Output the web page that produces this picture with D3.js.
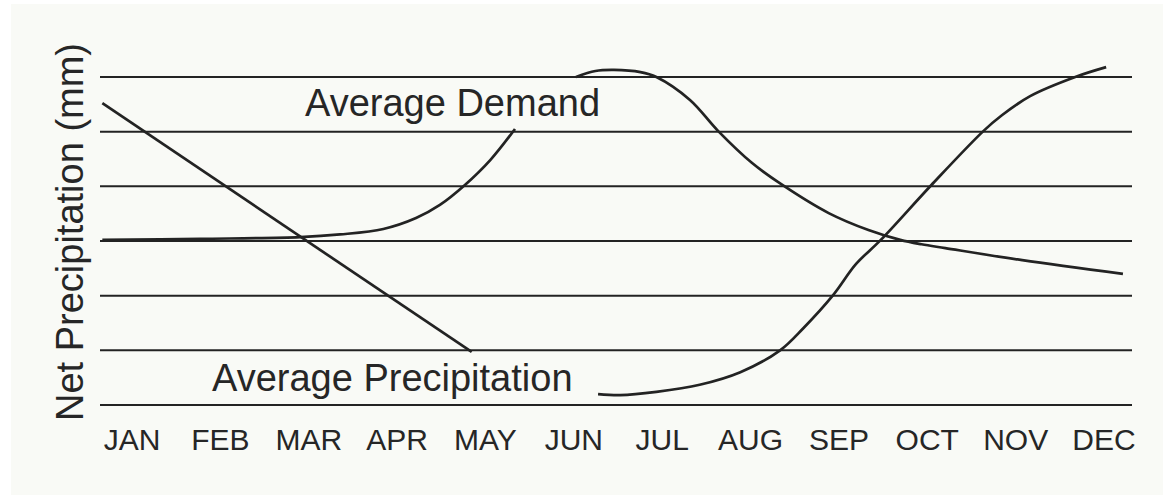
<!DOCTYPE html>
<html>
<head>
<meta charset="utf-8">
<script src="https://cdn.jsdelivr.net/npm/d3@7"></script>
<style>
  body { margin: 0; background: #fff; }
  text { font-family: "Liberation Sans", Arial, sans-serif; fill: #262626; }
</style>
</head>
<body>
<svg id="chart" width="1163" height="495"></svg>
<script>
var months = ["JAN", "FEB", "MAR", "APR", "MAY", "JUN", "JUL", "AUG", "SEP", "OCT", "NOV", "DEC"];

// grid levels (no labels on the y axis in the original)
var levels = [0, 1, 2, 3, 4, 5, 6];

// [month index, value in grid units]
var precipEarly = [[-0.33, 5.52], [3.85, 0.97]];
var precipLate = [
  [5.28, 0.20], [5.53, 0.18], [5.94, 0.24], [6.43, 0.37], [6.89, 0.60],
  [7.34, 1.00], [7.60, 1.40], [7.94, 2.01], [8.20, 2.58], [8.48, 3.02],
  [9.05, 4.02], [9.64, 5.01], [9.85, 5.30], [10.17, 5.65], [10.68, 6.00],
  [11.03, 6.18]
];
var demandEarly = [
  [-0.33, 3.02], [0.78, 3.04], [1.91, 3.07], [2.36, 3.12], [2.85, 3.22],
  [3.22, 3.42], [3.49, 3.66], [3.77, 4.02], [4.06, 4.48], [4.34, 5.05]
];
var demandLate = [
  [5.03, 6.00], [5.25, 6.11], [5.46, 6.13], [5.76, 6.09], [5.94, 6.00],
  [6.32, 5.58], [6.64, 5.01], [7.02, 4.43], [7.37, 4.02], [7.89, 3.51],
  [8.34, 3.20], [8.70, 3.02], [8.94, 2.94], [9.21, 2.87], [10.08, 2.65],
  [11.22, 2.40]
];

var svg = d3.select("#chart"),
  gridLeft = 100,
  gridRight = 1132,
  ink = "#232323";

svg.append("rect")
  .attr("x", 11).attr("y", 4)
  .attr("width", 1152).attr("height", 491)
  .attr("fill", "#f9faf6");

var x = d3.scaleLinear().domain([0, 11]).range([131.5, 1103.5]),
  xMonth = d3.scalePoint().domain(months).range([131.5, 1103.5]),
  y = d3.scaleLinear().domain([0, 6]).range([405, 77]);

// horizontal grid lines
svg.append("g")
  .selectAll("line")
  .data(levels)
  .join("line")
    .attr("x1", gridLeft)
    .attr("x2", gridRight)
    .attr("y1", function(d) { return y(d); })
    .attr("y2", function(d) { return y(d); })
    .attr("stroke", ink)
    .attr("stroke-width", 2);

// month labels
var xAxis = svg.append("g")
  .attr("transform", "translate(0,450)")
  .call(d3.axisBottom(xMonth).tickSize(0).tickPadding(0));
xAxis.select(".domain").remove();
xAxis.selectAll("text")
  .attr("dy", 0)
  .attr("y", 0)
  .style("font-size", "30px")
  .attr("fill", "#262626");

var line = d3.line()
  .x(function(d) { return x(d[0]); })
  .y(function(d) { return y(d[1]); })
  .curve(d3.curveCatmullRom.alpha(0.5));

[precipEarly, precipLate, demandEarly, demandLate].forEach(function(s) {
  svg.append("path")
    .datum(s)
    .attr("d", line)
    .attr("fill", "none")
    .attr("stroke", ink)
    .attr("stroke-width", 2.7);
});

svg.append("text")
  .attr("x", 305).attr("y", 116)
  .style("font-size", "38px")
  .text("Average Demand");

svg.append("text")
  .attr("x", 212).attr("y", 391)
  .style("font-size", "38px")
  .text("Average Precipitation");

svg.append("text")
  .attr("transform", "translate(83,232) rotate(-90)")
  .attr("text-anchor", "middle")
  .style("font-size", "38px")
  .text("Net Precipitation (mm)");
</script>
</body>
</html>
